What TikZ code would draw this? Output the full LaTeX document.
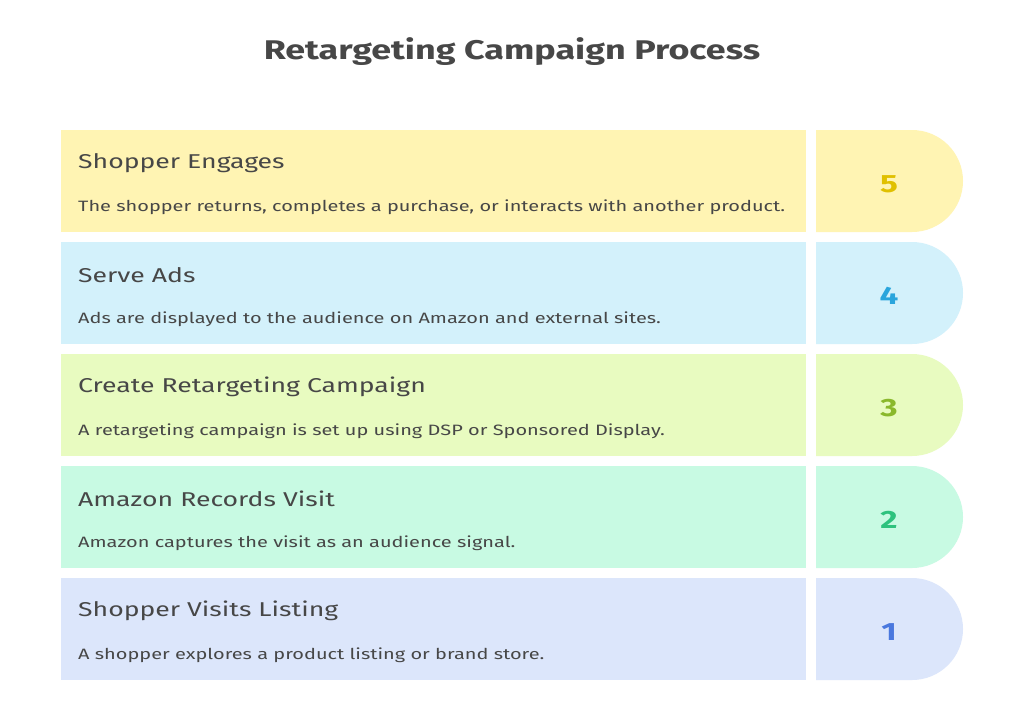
\documentclass[tikz,border=0pt]{standalone}
\usepackage{fontspec}
\setmainfont{Fira Sans}[FakeStretch=1.33]
\begin{document}
\begin{tikzpicture}[x=1pt,y=-1pt,
 txt/.style={text=black!72,anchor=west,inner sep=0},
 head/.style={txt,font=\fontsize{20}{24}\selectfont},
 desc/.style={txt,font=\fontsize{15}{18}\selectfont},
 num/.style={font=\fontsize{25}{28}\selectfont\bfseries}]
\useasboundingbox (0,0) rectangle (1024,710);
\fill[white] (0,0) rectangle (1024,710);
\node[text=black!72,font=\fontsize{27}{30}\selectfont\bfseries] (title) at (512,52) {Retargeting Campaign Process};
\definecolor{f5}{HTML}{FFF4B3}\definecolor{n5}{HTML}{E0C000}
\definecolor{f4}{HTML}{D3F1FB}\definecolor{n4}{HTML}{2AA5DC}
\definecolor{f3}{HTML}{E8FBC0}\definecolor{n3}{HTML}{8AB82C}
\definecolor{f2}{HTML}{C8FAE3}\definecolor{n2}{HTML}{2EC27E}
\definecolor{f1}{HTML}{DCE6FB}\definecolor{n1}{HTML}{4A78DE}
\foreach \i/\t/\h/\d in {5/130/{Shopper Engages}/{The shopper returns, completes a purchase, or interacts with another product.},
 4/242/{Serve Ads}/{Ads are displayed to the audience on Amazon and external sites.},
 3/354/{Create Retargeting Campaign}/{A retargeting campaign is set up using DSP or Sponsored Display.},
 2/466/{Amazon Records Visit}/{Amazon captures the visit as an audience signal.},
 1/578/{Shopper Visits Listing}/{A shopper explores a product listing or brand store.}}{
 \fill[f\i] (61,\t) rectangle (806,\t+102);
 \fill[f\i] (816,\t) [rounded corners=51] -- (963,\t) -- (963,\t+102) [sharp corners] -- (816,\t+102) -- cycle;
 \node[head] (h\i) at (78,\t+33) {\h};
 \node[desc] (d\i) at (78,\t+77) {\d};
 \node[num,text=n\i] (n\i) at (889,\t+54) {\i};
}
\end{tikzpicture}
\end{document}
